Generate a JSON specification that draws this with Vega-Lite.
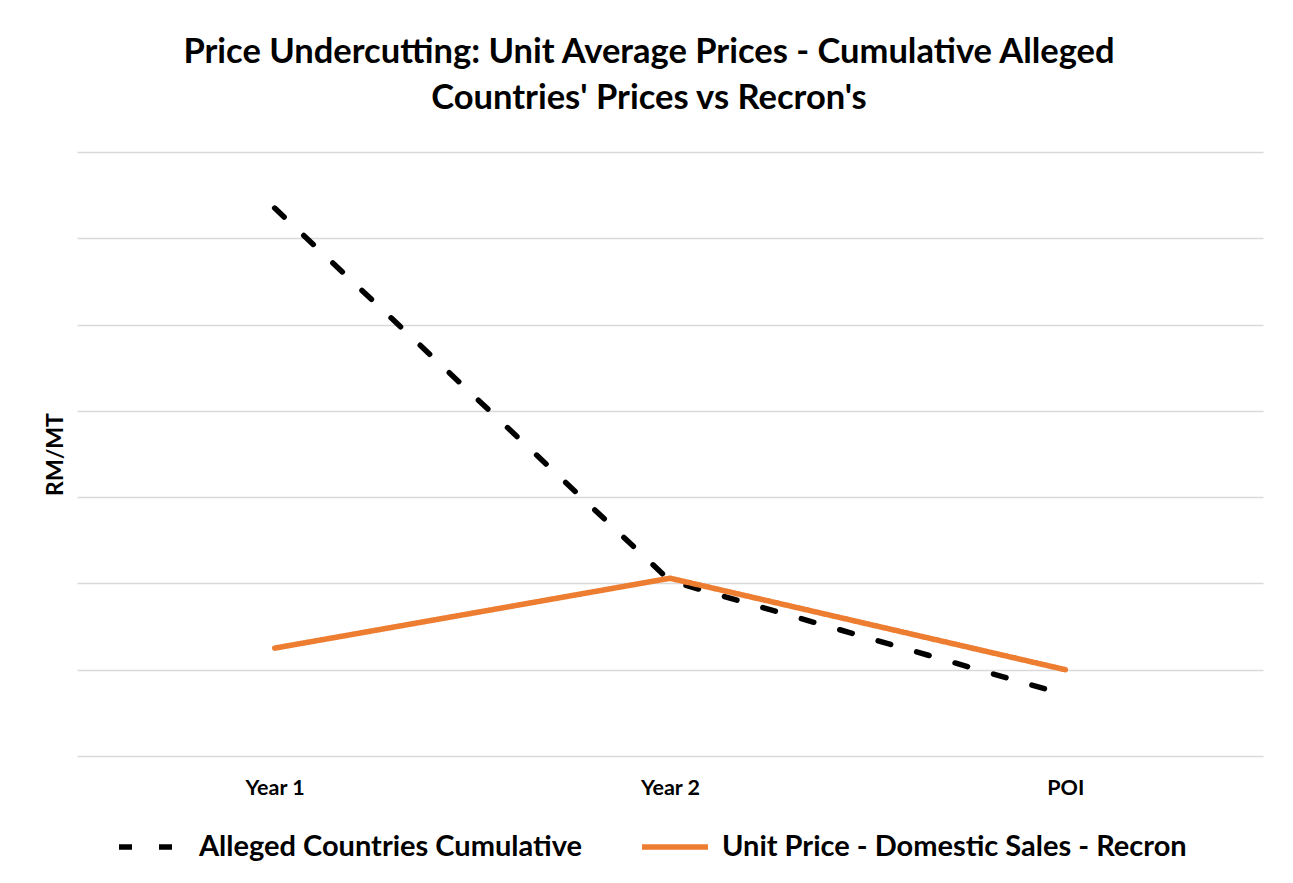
{
  "$schema": "https://vega.github.io/schema/vega-lite/v6.json",
  "width": 1186,
  "height": 604,
  "autosize": "none",
  "padding": {"left": 77, "top": 152, "right": 30, "bottom": 127},
  "background": "white",
  "config": {
    "font": "Lato",
    "view": {"stroke": null}
  },
  "title": {
    "text": ["Price Undercutting: Unit Average Prices - Cumulative Alleged", "Countries' Prices vs Recron's"],
    "fontSize": 34.5,
    "fontWeight": "bold",
    "font": "Lato",
    "color": "#000000",
    "anchor": "middle",
    "dx": -21,
    "offset": 36,
    "lineHeight": 46
  },
  "data": {
    "values": [
      {"period": "Year 1", "series": "Alleged Countries Cumulative", "price": 6350},
      {"period": "Year 2", "series": "Alleged Countries Cumulative", "price": 2030},
      {"period": "POI", "series": "Alleged Countries Cumulative", "price": 710},
      {"period": "Year 1", "series": "Unit Price - Domestic Sales - Recron", "price": 1250},
      {"period": "Year 2", "series": "Unit Price - Domestic Sales - Recron", "price": 2060},
      {"period": "POI", "series": "Unit Price - Domestic Sales - Recron", "price": 1000}
    ]
  },
  "mark": {"type": "line", "strokeWidth": 5.5, "strokeCap": "round", "strokeJoin": "round"},
  "encoding": {
    "x": {
      "field": "period",
      "type": "ordinal",
      "sort": ["Year 1", "Year 2", "POI"],
      "scale": {"type": "point", "padding": 0.5},
      "axis": {
        "title": null,
        "labelAngle": 0,
        "labelFontSize": 21.5,
        "labelFontWeight": "bold",
        "labelColor": "#000000",
        "labelPadding": 21,
        "ticks": false,
        "domain": false,
        "grid": false
      }
    },
    "y": {
      "field": "price",
      "type": "quantitative",
      "scale": {"domain": [0, 7000], "nice": false},
      "axis": {
        "title": "RM/MT",
        "titleFontSize": 23,
        "titleFontWeight": "bold",
        "titleColor": "#000000",
        "titlePadding": 10,
        "labels": false,
        "ticks": false,
        "domain": false,
        "values": [0, 1000, 2000, 3000, 4000, 5000, 6000, 7000],
        "grid": true,
        "gridColor": "#d9d9d9",
        "gridWidth": 1.5
      }
    },
    "color": {
      "field": "series",
      "type": "nominal",
      "sort": ["Alleged Countries Cumulative", "Unit Price - Domestic Sales - Recron"],
      "scale": {"domain": ["Alleged Countries Cumulative", "Unit Price - Domestic Sales - Recron"], "range": ["#000000", "#ED7D31"]},
      "legend": {
        "title": null,
        "orient": "none",
        "legendX": 39,
        "legendY": 659,
        "direction": "horizontal",
        "labelFontSize": 29,
        "labelFontWeight": "bold",
        "labelColor": "#000000",
        "labelLimit": 600,
        "symbolType": "stroke",
        "symbolSize": 4356,
        "symbolStrokeWidth": 5.5,
        "labelOffset": 11,
        "columnPadding": 48
      }
    },
    "strokeDash": {
      "field": "series",
      "type": "nominal",
      "sort": ["Alleged Countries Cumulative", "Unit Price - Domestic Sales - Recron"],
      "scale": {"domain": ["Alleged Countries Cumulative", "Unit Price - Domestic Sales - Recron"], "range": [[13, 27], [1, 0]]},
      "legend": null
    }
  }
}
